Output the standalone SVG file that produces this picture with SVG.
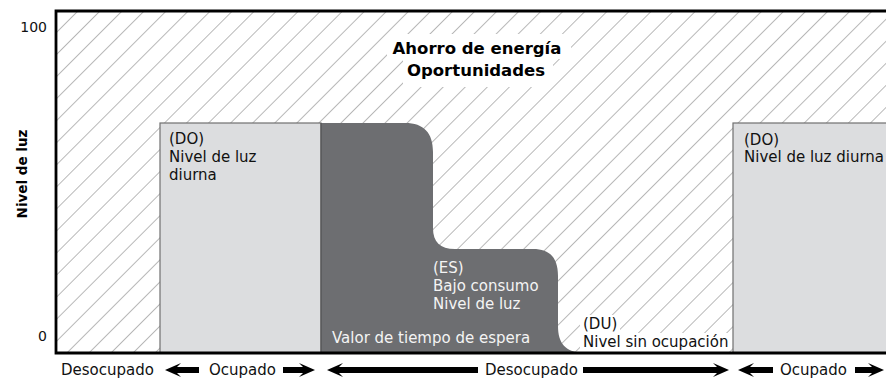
<svg xmlns="http://www.w3.org/2000/svg" width="886" height="380" viewBox="0 0 886 380">
  <style>
    .txt { font-family: "DejaVu Sans", "Liberation Sans", sans-serif; font-size: 15px; fill: #111; }
    .num { font-family: "DejaVu Sans", "Liberation Sans", sans-serif; font-size: 14px; fill: #111; text-anchor: end; }
    .bold { font-family: "DejaVu Sans", "Liberation Sans", sans-serif; font-weight: bold; fill: #000; }
    .light { fill: #f4f4f4; }
    .lightbox { fill: #dcdddf; stroke: #707070; stroke-width: 1.2; }
    .dark { fill: #6d6e71; }
    .halo { fill: #ffffff; }
    .arrow { fill: #000; }
  </style>
  <defs>
    <pattern id="hatch" patternUnits="userSpaceOnUse" width="15.6" height="20" patternTransform="rotate(45)">
      <line x1="0" y1="0" x2="0" y2="20" stroke="#7e7e7e" stroke-width="1.1"/>
    </pattern>
  </defs>

  <rect x="0" y="0" width="886" height="380" fill="#ffffff"/>

  <g id="background-hatch">
    <rect x="56" y="11" width="830" height="342" fill="url(#hatch)"/>
  </g>

  <g id="node-do-left">
    <rect class="lightbox" x="160" y="123" width="161" height="230"/>
    <text class="txt" x="169" y="144">(DO)</text>
    <text class="txt" x="169" y="162">Nivel de luz</text>
    <text class="txt" x="169" y="180">diurna</text>
  </g>

  <g id="node-es">
    <path class="dark" d="M321,123 H405 C424,123 433,133 433,152 V228 C433,242 440,249 455,249 H533 C550,249 558,258 558,276 V326 C558,343 565,352 583,353 H321 Z"/>
    <line x1="321" y1="123" x2="321" y2="353" stroke="#4a4a4c" stroke-width="1"/>
    <text class="txt light" x="433" y="273">(ES)</text>
    <text class="txt light" x="433" y="291">Bajo consumo</text>
    <text class="txt light" x="433" y="309">Nivel de luz</text>
    <text class="txt light" x="332" y="343">Valor de tiempo de espera</text>
  </g>

  <g id="node-du">
    <rect class="halo" x="580" y="315" width="40" height="18"/>
    <rect class="halo" x="580" y="333" width="148" height="19"/>
    <text class="txt" x="583" y="329">(DU)</text>
    <text class="txt" x="583" y="347">Nivel sin ocupación</text>
  </g>

  <g id="node-do-right">
    <rect class="lightbox" x="733" y="123" width="160" height="230"/>
    <text class="txt" x="744" y="145">(DO)</text>
    <text class="txt" x="744" y="162">Nivel de luz diurna</text>
  </g>

  <g id="title">
    <rect class="halo" x="387" y="34" width="184" height="25"/>
    <rect class="halo" x="403" y="59" width="150" height="28"/>
    <text class="bold" x="477" y="54" font-size="16.5" text-anchor="middle">Ahorro de energía</text>
    <text class="bold" x="476" y="76" font-size="16.5" text-anchor="middle">Oportunidades</text>
  </g>

  <g id="chart-frame">
    <path d="M886,11 H56 V353 H886" fill="none" stroke="#000" stroke-width="2.8"/>
  </g>

  <g id="axis-labels">
    <text class="num" x="47" y="32">100</text>
    <text class="num" x="47" y="341">0</text>
    <text class="bold" font-size="13.5" text-anchor="middle" transform="translate(27,174) rotate(-90)">Nivel de luz</text>
    <text class="txt" x="61" y="375">Desocupado</text>
    <text class="txt" x="209" y="375">Ocupado</text>
    <text class="txt" x="485" y="375">Desocupado</text>
    <text class="txt" x="780" y="375">Ocupado</text>
  </g>

  <g id="connectors">
    <path class="arrow" d="M165,370 L181,363 L177,367 H199 V373 H177 L181,377 Z"/>
    <path class="arrow" d="M327,370 L343,363 L339,367 H478 V373 H339 L343,377 Z"/>
    <path class="arrow" d="M738,370 L754,363 L750,367 H773 V373 H750 L754,377 Z"/>
    <path class="arrow" d="M315,370 L299,363 L303,367 H283 V373 H303 L299,377 Z"/>
    <path class="arrow" d="M729,370 L713,363 L717,367 H583 V373 H717 L713,377 Z"/>
    <path class="arrow" d="M884,370 L868,363 L872,367 H855 V373 H872 L868,377 Z"/>
  </g>
</svg>
